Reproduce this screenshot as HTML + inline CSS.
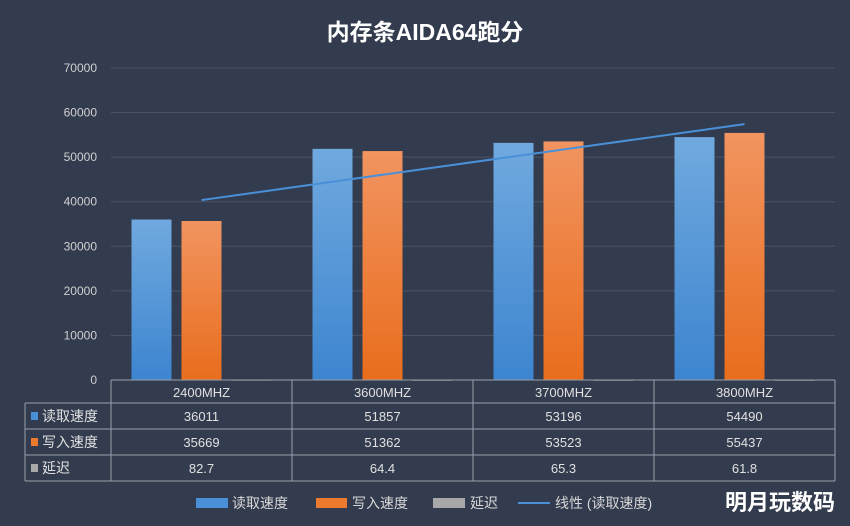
<!DOCTYPE html>
<html><head><meta charset="utf-8"><style>
body{margin:0;background:#333c4e;}
svg{display:block;font-family:"Liberation Sans","Noto Sans CJK SC",sans-serif;}
</style></head><body>
<svg id="c" width="850" height="526" viewBox="0 0 850 526">
<defs>
<linearGradient id="gb" x1="0" y1="0" x2="0" y2="1"><stop offset="0" stop-color="#70a9de"/><stop offset="1" stop-color="#3d85d0"/></linearGradient>
<linearGradient id="go" x1="0" y1="0" x2="0" y2="1"><stop offset="0" stop-color="#f19460"/><stop offset="1" stop-color="#e96d1d"/></linearGradient>
</defs>
<rect width="850" height="526" fill="#333c4e"/>
<text x="425" y="40" text-anchor="middle" font-size="23" font-weight="bold" fill="#fff">内存条AIDA64跑分</text>
<g id="grid"></g><g id="bars"></g><g id="tbl"></g>
<g font-size="14" fill="#d8d8d8">
<rect x="196" y="498" width="32" height="10" fill="#4a90d9"/>
<text x="232" y="508">读取速度</text>
<rect x="316" y="498" width="31" height="10" fill="#ec7a2e"/>
<text x="352" y="508">写入速度</text>
<rect x="433" y="498" width="32" height="10" fill="#a8a8a8"/>
<text x="470" y="508">延迟</text>
<line x1="518" y1="503" x2="550" y2="503" stroke="#4a90d9" stroke-width="2"/>
<text x="555" y="508">线性 (读取速度)</text>
</g>
<text x="835" y="510" text-anchor="end" font-size="22" font-weight="bold" fill="#fff">明月玩数码</text>
</svg>
<script>
const categories=["2400MHZ","3600MHZ","3700MHZ","3800MHZ"];
const readSpeed=[36011,51857,53196,54490];
const writeSpeed=[35669,51362,53523,55437];
const latency=[82.7,64.4,65.3,61.8];
const latencyLabels=["82.7","64.4","65.3","61.8"];
const yTicks=[0,10000,20000,30000,40000,50000,60000,70000];
const NS="http://www.w3.org/2000/svg";
const x0=111,x1=835,y0=380,y1=68,yMax=70000;
const cw=(x1-x0)/categories.length;
const Y=v=>y0-(v/yMax)*(y0-y1);
const X=i=>x0+cw*(i+0.5);
function mk(t,a,p,txt){const e=document.createElementNS(NS,t);for(const k in a)e.setAttribute(k,a[k]);if(txt!=null)e.textContent=txt;p.appendChild(e);return e;}
const grid=document.getElementById('grid'),bars=document.getElementById('bars'),tbl=document.getElementById('tbl');
yTicks.forEach(v=>{
 if(v>0){const l=mk('line',{x1:x0,x2:x1,y1:Y(v),y2:Y(v),stroke:'#4b5467','stroke-width':1},grid);
 
 }
 const t=mk('text',{x:97,y:Y(v)+4,'text-anchor':'end','font-size':12,fill:'#d0d0d0'},grid,String(v));
 
 
});
const bw=40,gap=10;
categories.forEach((c,i)=>{
 const cx=X(i),s=cx-(3*bw+2*gap)/2;
 const b=mk('rect',{x:s,y:Y(readSpeed[i]),width:bw,height:y0-Y(readSpeed[i]),fill:'url(#gb)'},bars);
 
 
 const o=mk('rect',{x:s+bw+gap,y:Y(writeSpeed[i]),width:bw,height:y0-Y(writeSpeed[i]),fill:'url(#go)'},bars);
 
 
 const g=mk('rect',{x:s+2*(bw+gap),y:Y(latency[i]),width:bw,height:Math.max(1,y0-Y(latency[i])),fill:'#a8a8a8'},bars);
 
 
});
// linear trend of read speed
const n=readSpeed.length,mx=(n+1)/2,my=readSpeed.reduce((a,b)=>a+b,0)/n;
let sxy=0,sxx=0;readSpeed.forEach((v,i)=>{sxy+=(i+1-mx)*(v-my);sxx+=(i+1-mx)**2;});
const sl=sxy/sxx,ic=my-sl*mx;
const tr=mk('line',{x1:X(0),y1:Y(ic+sl),x2:X(n-1),y2:Y(ic+sl*n),stroke:'#4a90d9','stroke-width':2},bars);


// table
const rows=[380,403,429,455,481],tl=25,ln='#9aa0ab';
mk('line',{x1:x0,x2:x1,y1:380,y2:380,stroke:ln},tbl);
[403,429,455,481].forEach(y=>mk('line',{x1:tl,x2:x1,y1:y,y2:y,stroke:ln},tbl));
mk('line',{x1:tl,x2:tl,y1:403,y2:481,stroke:ln},tbl);
for(let i=0;i<=n;i++)mk('line',{x1:x0+cw*i,x2:x0+cw*i,y1:380,y2:481,stroke:ln},tbl);
const series=[["读取速度",readSpeed.map(String),'#4a90d9'],["写入速度",writeSpeed.map(String),'#ec7a2e'],["延迟",latencyLabels,'#a8a8a8']];
categories.forEach((c,i)=>{const t=mk('text',{x:X(i),y:397,'text-anchor':'middle','font-size':13,fill:'#e0e0e0'},tbl,c);
 
 });
series.forEach((s,r)=>{
 const cy=(rows[r+1]+rows[r+2])/2;
 mk('rect',{x:31,y:cy-4,width:7,height:8,fill:s[2]},tbl);
 const h=mk('text',{x:42,y:cy+5,'font-size':14,fill:'#e0e0e0'},tbl,s[0]);
 
 
 s[1].forEach((v,i)=>{const t=mk('text',{x:X(i),y:cy+5,'text-anchor':'middle','font-size':13,fill:'#e0e0e0'},tbl,v);
 
 });
});
</script>
</body></html>
